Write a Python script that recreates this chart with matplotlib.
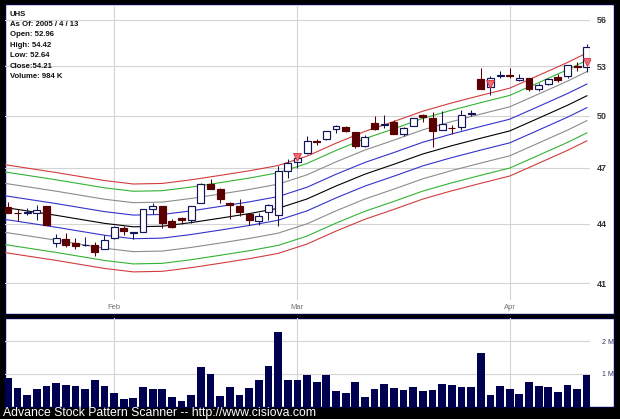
"""UHS daily candles with MA envelope bands and volume panel."""
import matplotlib
matplotlib.use("Agg")
import matplotlib.pyplot as plt
from matplotlib.patches import Rectangle
from matplotlib.ticker import FixedLocator, NullLocator

# ---- data (trading-day index 0 = 2005-01-14 ... 60 = 2005-04-13) ----
opens = [44.88, 44.57, 44.56, 44.55, 44.93, 43.02, 43.19, 43.02, 42.88, 42.90,
         42.68, 43.23, 43.75, 43.53, 43.56, 44.75, 44.90, 44.12, 44.30, 44.16,
         45.10, 46.13, 45.85, 45.10, 44.90, 44.49, 44.12, 44.60, 44.43, 46.80,
         47.35, 47.85, 48.50, 48.63, 49.22, 49.33, 49.03, 48.25, 49.55, 49.44,
         49.60, 48.95, 49.40, 50.05, 49.85, 49.18, 49.30, 49.33, 50.12, 52.20,
         51.75, 52.40, 52.47, 52.17, 52.25, 51.60, 51.90, 52.35, 52.40, 53.02,
         52.96]
highs = [45.12, 44.75, 44.80, 44.99, 44.95, 43.48, 43.53, 43.27, 43.31, 43.06,
         43.43, 43.85, 43.87, 43.56, 44.75, 45.06, 44.95, 44.26, 44.32, 44.90,
         46.18, 46.36, 45.88, 45.12, 45.32, 44.52, 44.55, 45.05, 47.10, 47.47,
         47.80, 48.80, 48.63, 49.12, 49.46, 49.36, 49.05, 48.85, 49.95, 50.05,
         49.76, 49.35, 49.88, 50.10, 50.20, 50.25, 49.45, 50.36, 50.36, 52.90,
         52.40, 52.70, 52.90, 52.50, 52.27, 51.95, 52.27, 52.50, 53.10, 53.30,
         54.42]
lows = [44.55, 44.13, 44.45, 44.17, 43.92, 42.77, 42.77, 42.68, 42.83, 42.34,
        42.68, 43.20, 43.40, 43.19, 43.56, 44.49, 43.79, 43.75, 43.98, 44.03,
        45.10, 45.82, 45.10, 44.26, 44.39, 43.92, 43.92, 44.20, 43.87, 46.45,
        47.00, 47.80, 48.30, 48.60, 49.00, 49.02, 48.10, 48.18, 49.15, 49.25,
        48.90, 48.80, 49.38, 49.60, 48.15, 49.15, 48.95, 49.13, 49.95, 51.60,
        51.26, 52.30, 52.25, 52.07, 51.45, 51.45, 51.85, 52.05, 52.30, 52.70,
        52.64]
closes = [44.55, 44.55, 44.59, 44.69, 43.92, 43.27, 42.90, 42.85, 42.92, 42.56,
          43.14, 43.81, 43.60, 43.56, 44.75, 44.90, 44.02, 43.81, 44.16, 44.90,
          46.09, 45.82, 45.28, 44.96, 44.60, 44.16, 44.39, 44.96, 46.82, 47.28,
          47.55, 48.50, 48.45, 49.12, 49.37, 49.08, 48.25, 48.75, 49.20, 49.48,
          48.90, 49.30, 49.85, 49.93, 49.08, 49.53, 49.25, 50.05, 50.17, 51.60,
          52.30, 52.45, 52.43, 52.30, 51.60, 51.85, 52.20, 52.15, 53.10, 52.98,
          54.21]
volumes_m = [0.89, 0.56, 0.36, 0.54, 0.63, 0.72, 0.65, 0.63, 0.54, 0.82,
             0.63, 0.42, 0.23, 0.27, 0.59, 0.54, 0.54, 0.29, 0.16, 0.36,
             1.21, 1.00, 0.33, 0.60, 0.36, 0.57, 0.82, 1.23, 2.29, 0.82,
             0.82, 0.97, 0.76, 0.97, 0.47, 0.42, 0.76, 0.29, 0.54, 0.69,
             0.57, 0.51, 0.60, 0.48, 0.51, 0.69, 0.65, 0.60, 0.60, 1.64,
             0.36, 0.63, 0.54, 0.39, 0.76, 0.63, 0.60, 0.45, 0.65, 0.53,
             0.97]

# moving-average centre line, sampled
ma_idx = [-1, 0, 5, 10, 13, 16, 19, 22, 25, 28, 31, 34, 37, 40, 43, 46, 49,
          52, 55, 58, 60]
ma_val = [44.88, 44.82, 44.43, 44.01, 43.83, 43.86, 44.05, 44.28, 44.52, 44.80,
          45.30, 46.00, 46.65, 47.20, 47.78, 48.25, 48.68, 49.10, 49.85, 50.62,
          51.19]
band_pct = [1.4, 2.9, 4.3, 5.2]
band_colors = ["#3333cc", "#8c8c8c", "#33b233", "#d23c3c"]

signal_idx = [30, 50, 60]
signal_price = [47.58, 51.90, 53.25]

month_pos = [11, 30, 52]
month_labels = ["Feb", "Mar", "Apr"]
price_ticks = [41, 44, 47, 50, 53, 56]
vol_ticks = [1, 2]
vol_labels = ["1 M", "2 M"]

info_lines = ["UHS", "As Of: 2005 / 4 / 13", "Open: 52.96", "High: 54.42",
              "Low: 52.64", "Close:54.21", "Volume: 984 K"]

W, H = 620, 419
UP_EDGE = "#14145a"
DOWN = "#5a0000"
GRID = "#d4d4d4"
FONT = "Liberation Sans"


def fx(px):
    return px / W


def fy(py):
    return 1 - py / H


fig = plt.figure(figsize=(W / 100, H / 100), dpi=100, facecolor="black")

# white panels with dark navy border, kept behind the axes
for top, bot in [(4, 314), (318, 407)]:
    fig.patches.append(Rectangle((fx(5), fy(bot)), fx(609), (bot - top) / H,
                                 transform=fig.transFigure, facecolor="white",
                                 edgecolor="#000040", lw=1.0, zorder=-5))

# ---- price panel ----
ax = fig.add_axes([fx(5), fy(300), fx(585), 295 / H])
ax.set_facecolor("none")
for s in ax.spines.values():
    s.set_visible(False)
ax.set_yscale("log")
ax.set_ylim(40.19, 57.0)
ax.set_xlim(-0.3, 60.32)

ax.yaxis.set_major_locator(FixedLocator(price_ticks))
ax.yaxis.set_minor_locator(NullLocator())
ax.set_yticklabels([str(t) for t in price_ticks])
ax.yaxis.tick_right()
ax.tick_params(axis="y", length=0, pad=5, labelsize=6.5, labelcolor="#333333")
for lab in ax.get_yticklabels():
    lab.set_fontweight("bold")
    lab.set_family(FONT)
ax.set_xticks(month_pos)
ax.set_xticklabels(month_labels)
ax.tick_params(axis="x", length=0, pad=3, labelsize=5.5, labelcolor="#707070")
for lab in ax.get_xticklabels():
    lab.set_family(FONT)
ax.grid(True, color=GRID, lw=0.8)
ax.set_axisbelow(True)

# envelope bands
for pct, col in zip(band_pct, band_colors):
    ax.plot(ma_idx, [v * (1 + pct / 100) for v in ma_val], color=col, lw=0.8)
    ax.plot(ma_idx, [v * (1 - pct / 100) for v in ma_val], color=col, lw=0.8)
ax.plot(ma_idx, ma_val, color="black", lw=0.8)

# candles
idx = list(range(len(closes)))
for i, o, h, l, c in zip(idx, opens, highs, lows, closes):
    up = c >= o
    col = UP_EDGE if up else DOWN
    ax.vlines(i, l, h, color=col, lw=0.75, zorder=3)
    lo, hi = min(o, c), max(o, c)
    ax.bar(i, hi - lo, bottom=lo, width=0.72,
           color="white" if up else DOWN, edgecolor=col, lw=0.85, zorder=4)

ax.plot(signal_idx, signal_price, ls="none", marker="v", ms=5.5,
        mfc="#f06a78", mec="#d03040", mew=0.6, zorder=5)

# ---- volume panel ----
axv = fig.add_axes([fx(5), fy(406.7), fx(585), 88.7 / H])
axv.set_facecolor("none")
for s in axv.spines.values():
    s.set_visible(False)
axv.set_xlim(-0.3, 60.32)
axv.set_ylim(0, 2.71)
axv.bar(idx, volumes_m, width=0.8, color="#000050", zorder=3)
axv.set_xticks(month_pos)
axv.set_xticklabels([])
axv.set_yticks(vol_ticks)
axv.set_yticklabels(vol_labels)
axv.yaxis.tick_right()
axv.tick_params(length=0)
axv.tick_params(axis="y", pad=9, labelsize=5, labelcolor="#333366")
for lab in axv.get_yticklabels():
    lab.set_family(FONT)
axv.grid(True, color=GRID, lw=0.8)
axv.set_axisbelow(True)

# ---- texts ----
for k, line in enumerate(info_lines):
    fig.text(fx(10), fy(14 + 10.4 * k), line, fontsize=5.6, fontweight="bold",
             family=FONT, color="#111111", va="center", ha="left")

fig.text(fx(3), fy(412.5), "Advance Stock Pattern Scanner -- http://www.cisiova.com",
         fontsize=8.8, family=FONT, color="white", va="center", ha="left")

fig.savefig("out.png", dpi=100, facecolor="black")
